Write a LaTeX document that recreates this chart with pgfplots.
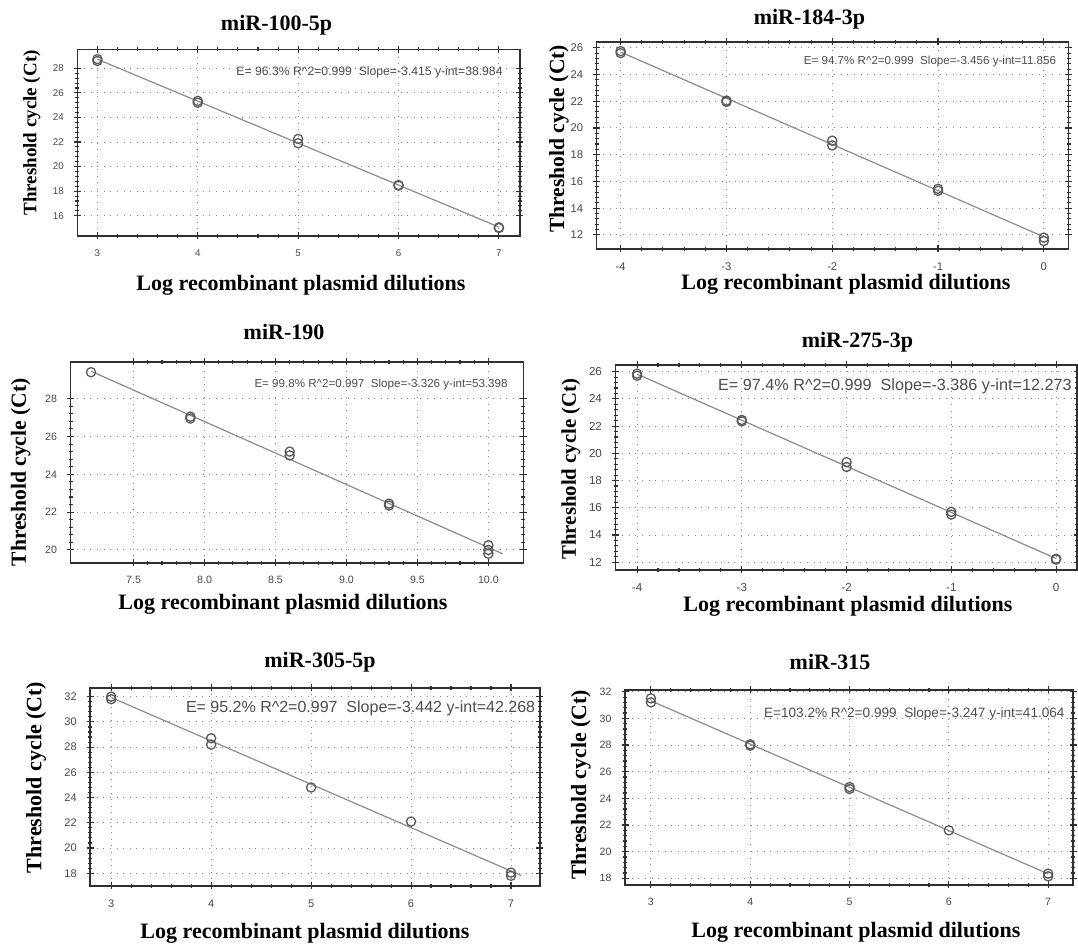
\documentclass[border=0pt]{standalone}
\usepackage{fontspec}
\setmainfont{Liberation Serif}
\newfontfamily\arial{Liberation Sans}
\usepackage{pgfplots}
\pgfplotsset{compat=1.18}
\definecolor{gridc}{HTML}{8A8A8A}
\definecolor{fitc}{HTML}{8C8C8C}
\definecolor{markc}{HTML}{5A5A5A}
\definecolor{axc}{HTML}{303030}
\pgfplotsset{
  panel/.style={
    scale only axis, anchor=south west,
    axis line style={line width=0.75pt, axc},
    tick align=center,
    major tick length=3.5pt, minor tick length=2pt,
    every tick/.style={axc, line width=0.55pt},
    minor x tick num=4, minor y tick num=4,
    grid=major,
    major grid style={gridc, line width=0.5pt, dash pattern=on 0.5pt off 2.8pt},
    /pgf/number format/assume math mode=true,
    ticklabel style={text=black!72},
    xticklabel style={yshift=-1.5pt},
    yticklabel style={xshift=-1.5pt},
    clip=false,
  },
  fit/.style={fitc, line width=0.6pt, no marks},
  pts/.style={only marks, mark=o, mark size=2.3pt, mark options={markc, line width=0.65pt}},
}
\newcommand{\ttl}[1]{{\fontsize{11}{12}\selectfont\bfseries #1}}
\newcommand{\xlab}{{\fontsize{11}{12}\selectfont\bfseries Log recombinant plasmid dilutions}}
\begin{document}
\begin{tikzpicture}
\useasboundingbox (0,0) rectangle (539pt,473.5pt);
% ---------------- Panel 1: miR-100-5p
\begin{axis}[panel, at={(38.65pt,355.5pt)}, width=221.35pt, height=93.35pt,
  xmin=2.80, xmax=7.21, ymin=14.35, ymax=29.55,
  xtick={3,4,5,6,7}, ytick={16,18,20,22,24,26,28},
  ticklabel style={font=\arial\fontsize{4.9}{5}\selectfont}]
\addplot[fit] coordinates {(3,28.74) (7,15.08)};
\addplot[pts] coordinates {(3,28.75) (3,28.6) (4,25.35) (4,25.2) (5,22.25) (5,21.9) (6,18.5) (6,18.45) (7,15.05) (7,15.0)};
\end{axis}
\node at (138.3pt,461pt) {\ttl{miR-100-5p}};
\node at (150.5pt,331pt) {\xlab};
\node[rotate=90] at (15.9pt,407pt) {{\fontsize{9.5}{10}\selectfont\bfseries Threshold cycle (Ct)}};
\node[anchor=east, inner sep=0pt, text=black!70] at (251.5pt,437.5pt) {\arial\fontsize{6.1}{7}\selectfont E= 96.3\% R\^{}2=0.999~ Slope=-3.415 y-int=38.984};
% ---------------- Panel 2: miR-184-3p
\begin{axis}[panel, at={(298.3pt,349pt)}, width=235.95pt, height=103.5pt,
  xmin=-4.227, xmax=0.233, ymin=10.95, ymax=26.43,
  xtick={-4,-3,-2,-1,0}, ytick={12,14,16,18,20,22,24,26},
  ticklabel style={font=\arial\fontsize{5.6}{6}\selectfont}]
\addplot[fit] coordinates {(-4,25.68) (0,11.856)};
\addplot[pts] coordinates {(-4,25.75) (-4,25.6) (-3,22.05) (-3,21.95) (-2,19.05) (-2,18.7) (-1,15.45) (-1,15.3) (0,11.8) (0,11.55)};
\end{axis}
\node at (404.7pt,464pt) {\ttl{miR-184-3p}};
\node at (423pt,331.5pt) {\xlab};
\node[rotate=90] at (279.5pt,404pt) {{\fontsize{10.8}{11}\selectfont\bfseries Threshold cycle (Ct)}};
\node[anchor=east, inner sep=0pt, text=black!70] at (528.25pt,442.5pt) {\arial\fontsize{5.8}{7}\selectfont E= 94.7\% R\^{}2=0.999~ Slope=-3.456 y-int=11.856};
% ---------------- Panel 3: miR-190
\begin{axis}[panel, at={(35.3pt,192pt)}, width=226.4pt, height=100.5pt,
  xmin=7.056, xmax=10.247, ymin=19.31, ymax=29.94,
  xtick={7.5,8,8.5,9,9.5,10}, ytick={20,22,24,26,28},
  xticklabel style={/pgf/number format/.cd, fixed, fixed zerofill, precision=1},
  ticklabel style={font=\arial\fontsize{5.3}{6}\selectfont}]
\addplot[fit] coordinates {(7.2,29.45) (10.1,19.80)};
\addplot[pts] coordinates {(7.2,29.4) (7.9,27.05) (7.9,26.95) (8.6,25.2) (8.6,25.0) (9.3,22.45) (9.3,22.35) (10,20.25) (10,20.0) (10,19.8)};
\end{axis}
\node at (142pt,307.5pt) {\ttl{miR-190}};
\node at (141.5pt,171.5pt) {\xlab};
\node[rotate=90] at (10.4pt,237.3pt) {{\fontsize{10.8}{11}\selectfont\bfseries Threshold cycle (Ct)}};
\node[anchor=east, inner sep=0pt, text=black!70] at (254pt,281pt) {\arial\fontsize{5.8}{7}\selectfont E= 99.8\% R\^{}2=0.997~ Slope=-3.326 y-int=53.398};
% ---------------- Panel 4: miR-275-3p
\begin{axis}[panel, at={(307.75pt,188.5pt)}, width=230.75pt, height=102.5pt,
  xmin=-4.206, xmax=0.2, ymin=11.43, ymax=26.49,
  xtick={-4,-3,-2,-1,0}, ytick={12,14,16,18,20,22,24,26},
  ticklabel style={font=\arial\fontsize{5.8}{6}\selectfont}]
\addplot[fit] coordinates {(-4,25.82) (0,12.273)};
\addplot[pts] coordinates {(-4,25.85) (-4,25.7) (-3,22.45) (-3,22.35) (-2,19.35) (-2,19.0) (-1,15.7) (-1,15.5) (0,12.25) (0,12.2)};
\end{axis}
\node at (428.7pt,302.5pt) {\ttl{miR-275-3p}};
\node at (424pt,170.5pt) {\xlab};
\node[rotate=90] at (285.5pt,239pt) {{\fontsize{10.4}{11}\selectfont\bfseries Threshold cycle (Ct)}};
\node[anchor=east, inner sep=0pt, text=black!70] at (536pt,280.5pt) {\arial\fontsize{8.1}{9}\selectfont E= 97.4\% R\^{}2=0.999~ Slope=-3.386 y-int=12.273};
% ---------------- Panel 5: miR-305-5p
\begin{axis}[panel, at={(45.1pt,30.5pt)}, width=224.9pt, height=99pt,
  xmin=2.79, xmax=7.29, ymin=16.99, ymax=32.69,
  xtick={3,4,5,6,7}, ytick={18,20,22,24,26,28,30,32},
  ticklabel style={font=\arial\fontsize{5.5}{6}\selectfont}]
\addplot[fit] coordinates {(3,31.94) (7.1,17.83)};
\addplot[pts] coordinates {(3,32.0) (3,31.8) (4,28.7) (4,28.2) (5,24.8) (6,22.1) (7,18.05) (7,17.8)};
\end{axis}
\node at (160pt,142.5pt) {\ttl{miR-305-5p}};
\node at (152.5pt,7pt) {\xlab};
\node[rotate=90] at (18pt,84.8pt) {{\fontsize{11}{11}\selectfont\bfseries Threshold cycle (Ct)}};
\node[anchor=east, inner sep=0pt, text=black!70] at (267.75pt,119.5pt) {\arial\fontsize{8}{9}\selectfont E= 95.2\% R\^{}2=0.997~ Slope=-3.442 y-int=42.268};
% ---------------- Panel 6: miR-315
\begin{axis}[panel, at={(312.55pt,31pt)}, width=223.95pt, height=97.5pt,
  xmin=2.74, xmax=7.25, ymin=17.5, ymax=32.13,
  xtick={3,4,5,6,7}, ytick={18,20,22,24,26,28,30,32},
  ticklabel style={font=\arial\fontsize{5.3}{6}\selectfont}]
\addplot[fit] coordinates {(3,31.32) (7,18.335)};
\addplot[pts] coordinates {(3,31.5) (3,31.2) (4,28.05) (4,27.95) (5,24.85) (5,24.7) (6,21.6) (7,18.35) (7,18.15)};
\end{axis}
\node at (415pt,142.5pt) {\ttl{miR-315}};
\node at (428pt,7.5pt) {\xlab};
\node[rotate=90] at (290.5pt,81pt) {{\fontsize{10.9}{11}\selectfont\bfseries Threshold cycle (Ct)}};
\node[anchor=east, inner sep=0pt, text=black!70] at (532.5pt,116.5pt) {\arial\fontsize{6.8}{7}\selectfont E=103.2\% R\^{}2=0.999~ Slope=-3.247 y-int=41.064};
\end{tikzpicture}
\end{document}
